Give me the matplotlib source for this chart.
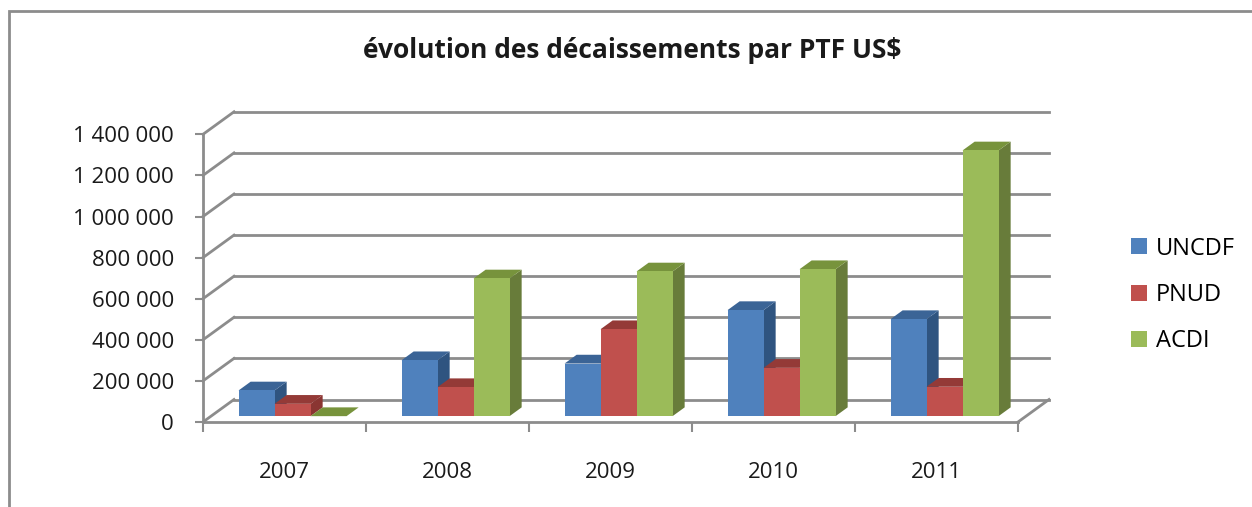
import matplotlib.pyplot as plt
from matplotlib.patches import Polygon, Rectangle
from matplotlib.ticker import FuncFormatter

# data
years = ['2007', '2008', '2009', '2010', '2011']
series = ['UNCDF', 'PNUD', 'ACDI']
uncdf = [125000, 272000, 256000, 516000, 472000]
pnud = [60000, 141000, 423000, 235000, 143000]
acdi = [0, 670000, 704000, 715000, 1293000]
yticks = [0, 200000, 400000, 600000, 800000, 1000000, 1200000, 1400000]

front_col = ['#4f81bd', '#c0504d', '#9bbb59']
top_col = ['#3b6496', '#943a37', '#77933c']
side_col = ['#2f5480', '#8a3532', '#687c3a']
grid_col = '#8c8c8c'

plt.rcParams['font.family'] = ['Open Sans', 'DejaVu Sans']

W, H = 1252, 507
fig = plt.figure(figsize=(W / 100, H / 100), dpi=100)

# pixel geometry of the plot box
ax_l, ax_r, ax_t, ax_b = 150, 1070, 95, 445
x0_px, y0_px = 203, 422
px_cat = 163.0
px_val = 41.1 / 200000
ax = fig.add_axes([ax_l / W, 1 - ax_b / H, (ax_r - ax_l) / W, (ax_b - ax_t) / H])
ax.set_xlim((ax_l - x0_px) / px_cat, (ax_r - x0_px) / px_cat)
ax.set_ylim((y0_px - ax_b) / px_val, (y0_px - ax_t) / px_val)

# oblique depth of the floor / back wall
DX = 31 / px_cat
DY = 22.5 / px_val
f0 = 0.26      # depth of bar front
fd = 0.39      # bar depth
ymax = yticks[-1]
ncat = len(years)

# back wall gridlines and side wall diagonals
for v in yticks:
    ax.plot([DX, ncat + DX], [v + DY, v + DY], color=grid_col, lw=2, zorder=1)
    ax.plot([0, DX], [v, v + DY], color=grid_col, lw=2, zorder=1)
ax.plot([ncat, ncat + DX], [0, DY], color=grid_col, lw=2, zorder=1)

# bars
w = 36 / px_cat
vals = [uncdf, pnud, acdi]
z = 3
for i in range(ncat):
    for j in range(len(series)):
        v = vals[j][i]
        x = i + 0.5 - 1.5 * w + j * w + f0 * DX
        yb = f0 * DY
        ox, oy = fd * DX, fd * DY
        side = Polygon([(x + w, yb), (x + w + ox, yb + oy), (x + w + ox, yb + v + oy), (x + w, yb + v)],
                       closed=True, facecolor=side_col[j], edgecolor='none', zorder=z)
        top = Polygon([(x, yb + v), (x + ox, yb + v + oy), (x + w + ox, yb + v + oy), (x + w, yb + v)],
                      closed=True, facecolor=top_col[j], edgecolor='none', zorder=z)
        ax.add_patch(side)
        ax.add_patch(top)
        ax.bar(x, v, width=w, bottom=yb, align='edge', color=front_col[j], zorder=z + 0.5,
               label=series[j] if i == 0 else None)
        z += 1

# axes: front vertical axis and floor line
for s in ['top', 'right']:
    ax.spines[s].set_visible(False)
ax.spines['left'].set_position(('data', 0))
ax.spines['left'].set_bounds(0, ymax)
ax.spines['bottom'].set_position(('data', 0))
ax.spines['bottom'].set_bounds(0, ncat)
for s in ['left', 'bottom']:
    ax.spines[s].set_color(grid_col)
    ax.spines[s].set_linewidth(2)
    ax.spines[s].set_zorder(2)

ax.set_yticks(yticks)
ax.yaxis.set_major_formatter(FuncFormatter(lambda v, p: f'{v:,.0f}'.replace(',', ' ')))
ax.tick_params(axis='y', length=6, width=1.5, color=grid_col, pad=15, labelsize=16, labelcolor='#1a1a1a')

ax.set_xticks(range(ncat + 1))
ax.set_xticklabels([])
ax.set_xticks([i + 0.5 for i in range(ncat)], minor=True)
ax.set_xticklabels(years, minor=True)
ax.tick_params(axis='x', which='major', length=7, width=1.5, color=grid_col)
ax.tick_params(axis='x', which='minor', length=0, pad=29, labelsize=16, labelcolor='#1a1a1a')

leg = ax.legend(loc='center left', bbox_to_anchor=(1110 / W, 1 - 295 / H), bbox_transform=fig.transFigure,
                frameon=False, fontsize=17, handlelength=0.65, handleheight=0.65, handletextpad=0.4,
                labelspacing=0.95)

fig.text(632 / W, 1 - 51 / H, 'évolution des décaissements par PTF US$', ha='center', va='center',
         fontsize=19, fontweight='bold', color='#1a1a1a')

# chart border
fig.patches.append(Rectangle((9 / W, -0.2), 1.2, 1.2 - 11 / H, transform=fig.transFigure,
                             fill=False, edgecolor=grid_col, lw=2))

fig.savefig('out.png', dpi=100)
